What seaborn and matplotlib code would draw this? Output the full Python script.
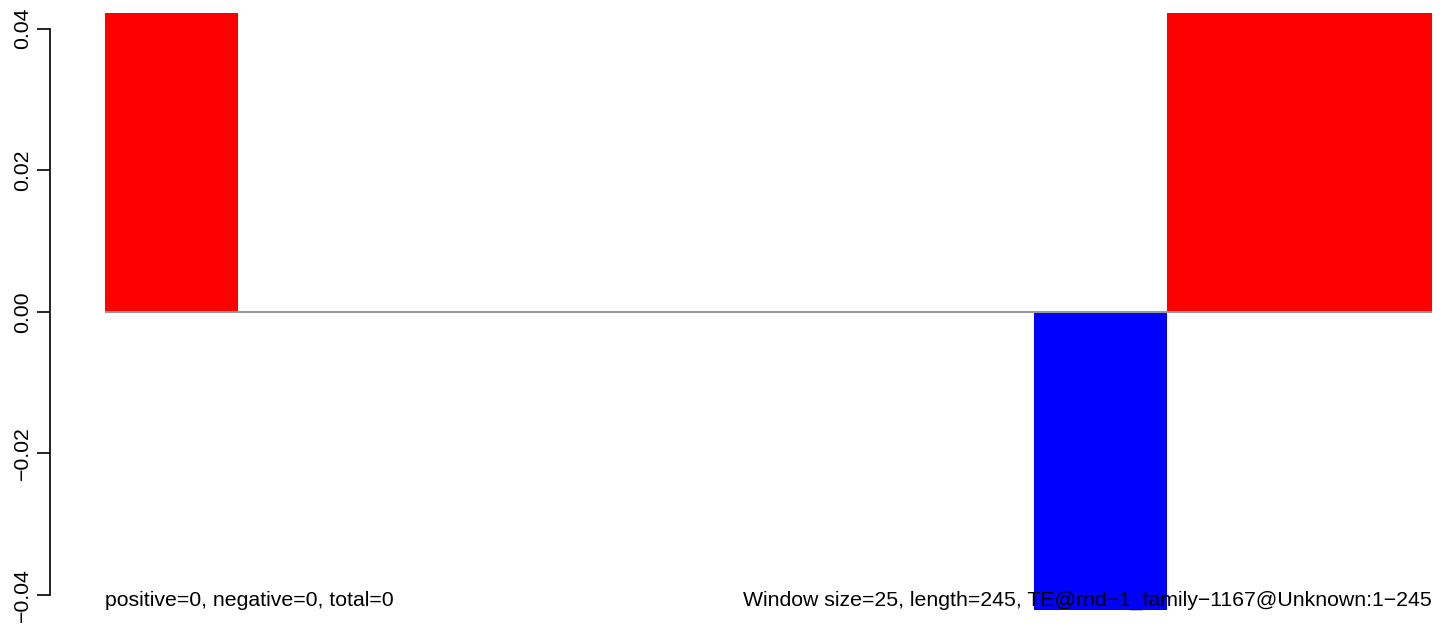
import matplotlib
matplotlib.use("Agg")
import matplotlib.pyplot as plt
import seaborn as sns
import pandas as pd

# window scores (values run off the plot range, as in the original)
windows = [0, 1, 2, 3, 4, 5, 6, 7, 8, 9]
scores = [1, 0, 0, 0, 0, 0, 0, -1, 1, 1]
ytick_vals = [-0.04, -0.02, 0.00, 0.02, 0.04]
ytick_labels = ["\u22120.04", "\u22120.02", "0.00", "0.02", "0.04"]
left_note = "positive=0, negative=0, total=0"
right_note = "Window size=25, length=245, TE@rnd\u22121_family\u22121167@Unknown:1\u2212245"

sns.set_style("white")
plt.rcParams['font.family'] = ['Liberation Sans', 'DejaVu Sans']
plt.rcParams['text.color'] = 'black'
plt.rcParams['ytick.color'] = 'black'

df = pd.DataFrame({'window': windows, 'score': scores})
df['sign'] = ['pos' if s > 0 else 'neg' for s in df['score']]

W, H = 1444, 626
fig = plt.figure(figsize=(W / 100, H / 100), dpi=100)
ax = fig.add_axes([105 / W, (H - 610) / H, 1327 / W, 597 / H])

sns.barplot(data=df, x='window', y='score', hue='sign',
            palette={'pos': '#ff0000', 'neg': '#0000ff'}, saturation=1,
            width=1.0, dodge=False, linewidth=0, legend=False, ax=ax)

ax.axhline(0, color='#999999', lw=1.5, zorder=5)
ax.set_xlim(-0.5, 9.5)
ax.set_ylim(-0.0421, 0.0422)

for s in ['top', 'right', 'bottom']:
    ax.spines[s].set_visible(False)
# offset is in points: 55 px at 100 dpi
ax.spines['left'].set_position(('outward', 55 * 0.72))
ax.spines['left'].set_bounds(-0.04, 0.04)
ax.spines['left'].set_linewidth(1.2)
ax.spines['left'].set_color('black')

ax.set_xticks([])
ax.set_xlabel('')
ax.set_ylabel('')
ax.set_yticks(ytick_vals)
ax.set_yticklabels(ytick_labels, rotation=90, va='center', fontsize=15.3)
ax.tick_params(axis='y', direction='out', length=9.4, width=1.2, pad=3.5,
               left=True, colors='black')

fig.text(105 / W, (H - 606) / H, left_note, ha='left', va='baseline', fontsize=15.3)
fig.text(1432 / W, (H - 606) / H, right_note, ha='right', va='baseline', fontsize=15.3)

fig.savefig('out.png', dpi=100)
